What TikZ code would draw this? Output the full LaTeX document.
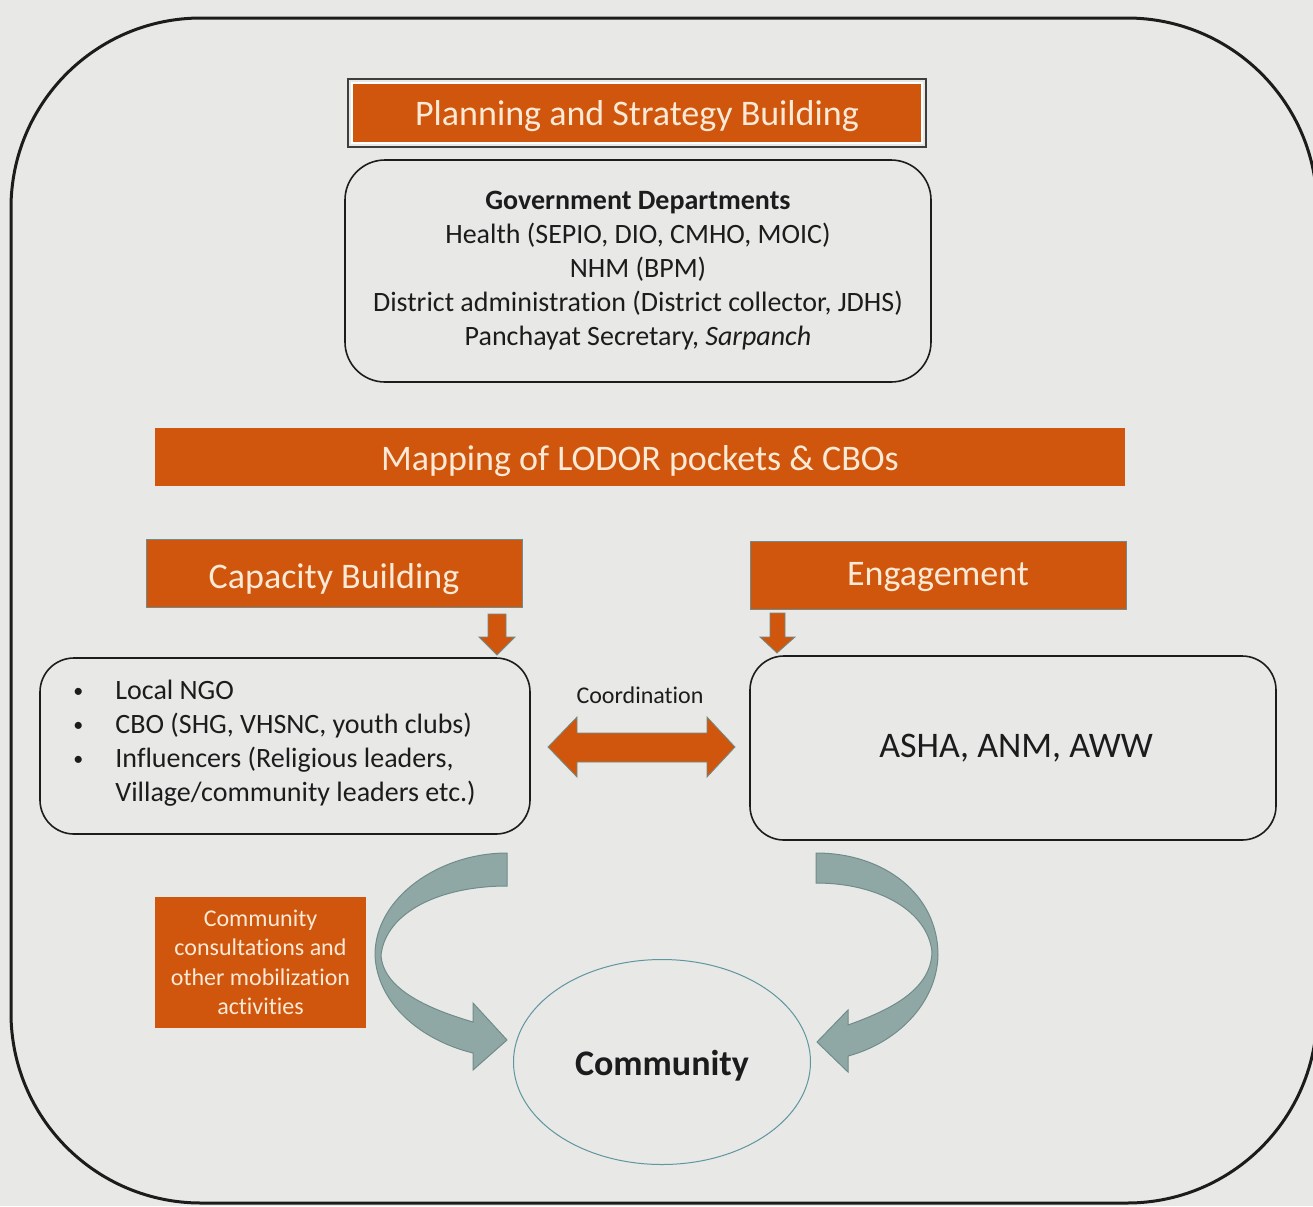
\documentclass[tikz,border=0pt]{standalone}
\usepackage{fontspec}
\setmainfont{Carlito}[Ligatures=NoCommon]
\usetikzlibrary{shapes.geometric}
\definecolor{bg}{RGB}{232,232,230}
\definecolor{orng}{RGB}{207,86,12}
\definecolor{cream}{RGB}{252,233,214}
\definecolor{txt}{RGB}{28,28,28}
\definecolor{tealf}{RGB}{143,168,165}
\definecolor{teald}{RGB}{112,140,138}
\definecolor{ellc}{RGB}{95,150,160}
\newcommand{\smbul}{\makebox[21pt][l]{\raisebox{0.8pt}{\fontsize{10}{10}\selectfont •}}}
\begin{document}
\begin{tikzpicture}[x=0.5pt,y=-0.5pt,
  hdr/.style={fill=orng, text=cream, font=\fontsize{18}{22}\selectfont, inner sep=0pt},
  rbox/.style={draw=txt, line width=0.8pt, rounded corners=20pt, inner sep=0pt, text=txt},
  blk/.style={fill=orng, draw=teald, line width=0.4pt},
  curv/.style={fill=tealf, draw=teald, line width=0.5pt},
]
\fill[bg] (0,0) rectangle (1313,1206);
\useasboundingbox (0,0) rectangle (1313,1206);
% outer frame
\draw[line width=1.5pt, rounded corners=95pt, txt] (11,18) rectangle (1317,1203);

% planning header
\node[hdr, draw=white, line width=1.2pt, minimum width=285pt, minimum height=30pt,
      text height=13.4pt, text depth=1.4pt] (plan) at (637,113) {Planning and Strategy Building};
\draw[txt!85, line width=0.9pt] ([shift={(-3,-3)}]plan.north west) rectangle ([shift={(3,3)}]plan.south east);

% government box
\node[rbox, minimum width=293pt, minimum height=111pt, align=center,
      font=\fontsize{14}{17}\selectfont] (gov) at (638,271)
  {\textbf{Government Departments}\\Health (SEPIO, DIO, CMHO, MOIC)\\NHM (BPM)\\District administration (District collector, JDHS)\\Panchayat Secretary, \textit{Sarpanch}};

% mapping bar
\node[hdr, minimum width=485pt, minimum height=29pt, text height=14.4pt, text depth=1.4pt] (map) at (640,457) {Mapping of LODOR pockets \& CBOs};

% capacity / engagement
\node[hdr, draw=teald, line width=0.5pt, minimum width=188pt, minimum height=34pt,
      text height=16.4pt, text depth=1.4pt] (cap) at (334,573) {Capacity Building};
\node[hdr, draw=teald, line width=0.5pt, minimum width=188pt, minimum height=34pt,
      text height=11.4pt, text depth=1.4pt] (eng) at (938,575) {Engagement};

% list box
\node[rbox, rounded corners=17pt, minimum width=245pt, minimum height=88pt] (lst) at (285,746) {};
\node[anchor=west, align=left, inner sep=0pt, text=txt, font=\fontsize{14}{17}\selectfont] (lsttxt) at (73,743)
  {\smbul Local NGO\\\smbul CBO (SHG, VHSNC, youth clubs)\\\smbul Influencers (Religious leaders,\\\hspace*{21pt}Village/community leaders etc.)};

% ASHA box
\node[rbox, rounded corners=17pt, minimum width=263pt, minimum height=92pt, font=\fontsize{18}{22}\selectfont] (asha) at (1013,748) {\hspace*{3pt}ASHA, ANM, AWW};

% down arrows
\draw[blk] (488,614) -- (506,614) -- (506,637) -- (515,637) -- (497,655) -- (479,637) -- (488,637) -- cycle;
\draw[blk] (770,613) -- (785,613) -- (785,637) -- (795,637) -- (777,653) -- (760,637) -- (770,637) -- cycle;

% coordination
\node[text=txt, font=\fontsize{12}{14}\selectfont, inner sep=0pt] (coord) at (640,695) {Coordination};
\draw[blk] (548,747) -- (577,717) -- (577,733) -- (707,733) -- (707,717) -- (735,747)
  -- (707,777) -- (707,762) -- (577,762) -- (577,777) -- cycle;

% community consultations box
\node[hdr, minimum width=105.5pt, minimum height=65.5pt, align=center,
      font=\fontsize{12}{14.75}\selectfont] (cons) at (260.5,962.5)
  {Community\\consultations and\\other mobilization\\activities};

% community ellipse
\node[ellipse, draw=ellc, line width=0.5pt, minimum width=148.5pt, minimum height=102.5pt,
      text height=14.4pt, text depth=1.4pt,
      font=\bfseries\fontsize{18}{22}\selectfont, text=txt] (comm) at (662,1062) {Community};

% curved arrows
\draw[curv] (507,853) .. controls (440,853) and (375,897) .. (375,955)
  .. controls (377,1003) and (420,1040) .. (473,1053) -- (473,1070) -- (507,1040) -- (473,1003) -- (473,1022)
  .. controls (425,1008) and (383,988) .. (381,955)
  .. controls (386,912) and (440,886) .. (507,886) -- cycle;
\draw[curv] (816,853) .. controls (885,853) and (938,895) .. (938,955)
  .. controls (937,1003) and (897,1043) .. (848,1056) -- (848,1072) -- (817,1042) -- (848,1010) -- (848,1025)
  .. controls (890,1010) and (931,990) .. (932,952)
  .. controls (928,912) and (880,883) .. (816,883) -- cycle;
\end{tikzpicture}
\end{document}
